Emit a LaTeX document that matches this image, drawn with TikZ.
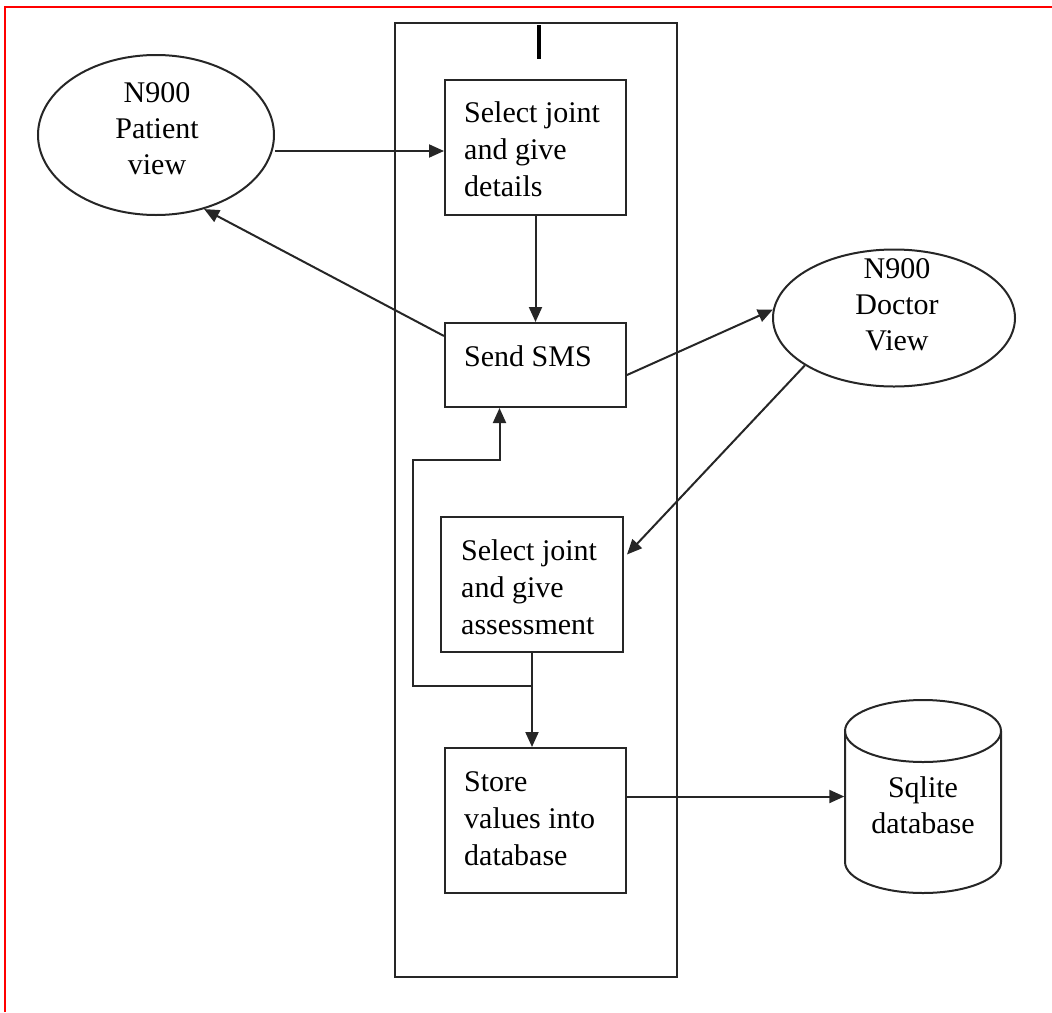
\documentclass[tikz,border=0pt]{standalone}
\usepackage{fontspec}
\setmainfont{Liberation Serif}
\usetikzlibrary{arrows.meta,shapes.geometric,calc}
\begin{document}
\begin{tikzpicture}[x=1pt,y=-1pt,
  ln/.style={draw=black!85, line width=2pt},
  stepbox/.style={ln, inner sep=0pt, minimum width=181pt, minimum height=135pt},
  oval/.style={ln, ellipse, inner sep=0pt},
  txt/.style={font=\fontsize{30}{37}\selectfont, align=left, inner sep=0pt, anchor=west},
  ctxt/.style={font=\fontsize{30}{36}\selectfont, align=center, inner sep=0pt},
  arr/.style={draw=black!85, line width=2pt, -{Triangle[length=15pt,width=13pt]}}]
\useasboundingbox (0,0) rectangle (1052,1012);
% red frame
\draw[red, line width=2pt] (5,1012) -- (5,7) -- (1052,7);
% swimlane
\node[ln, inner sep=0pt, minimum width=282pt, minimum height=954pt] (lane) at (536,500) {};
\draw[line width=3.5pt] (539,25) -- (539,59);
% boxes
\node[stepbox] (b1) at (535.5,147.5) {};
\node[stepbox, minimum height=84pt] (b2) at (535.5,365) {};
\node[stepbox, minimum width=182pt] (b3) at (532,584.5) {};
\node[stepbox, minimum height=145pt] (b4) at (535.5,820.5) {};
\node[txt] (t1) at (464,149) {Select joint\\and give\\details};
\node[txt] (t2) at (464,356) {Send SMS};
\node[txt] (t3) at (461,587) {Select joint\\and give\\assessment};
\node[txt] (t4) at (464,819) {Store\\values into\\database};
% ellipses
\node[oval, minimum width=236pt, minimum height=160pt] (pat) at (156,135) {};
\node[ctxt] (pt) at (157,129) {N900\\Patient\\view};
\node[oval, minimum width=242pt, minimum height=137pt] (doc) at (894,318) {};
\node[ctxt] (dt) at (897,305) {N900\\Doctor\\View};
% database cylinder
\node[inner sep=0pt, minimum width=157pt, minimum height=193pt] (db) at (923,796.5) {};
\draw[ln] (923,731) ellipse [x radius=78pt, y radius=31pt];
\draw[ln] (845,731) -- (845,862) arc[start angle=180, end angle=360, x radius=78pt, y radius=31pt] -- (1001,731);
\node[ctxt] (dbt) at (923,805) {Sqlite\\database};
% connectors
\draw[arr] (pat.east |- 0,151) -- (b1.west |- 0,151);
\draw[arr] (b1.south) -- (b2.north);
\draw[arr] ($(b2.north west)+(0,14)$) -- (pat.-57);
\draw[arr] ($(b2.east)+(0,10)$) -- (doc.176);
\draw[arr] (doc.208) -- ($(b3.east)+(3,-30)$);
\draw[arr] (b3.south) -- (b3.south |- b4.north);
\coordinate (j) at ($(b3.south)+(0,33)$);
\draw[arr] (j) -- ++(-119,0) |- ($(b2.south)+(-36,52)$) -- ($(b2.south)+(-36,0)$);
\draw[arr] (b4.east |- db.west) -- (db.west);
\end{tikzpicture}
\end{document}
